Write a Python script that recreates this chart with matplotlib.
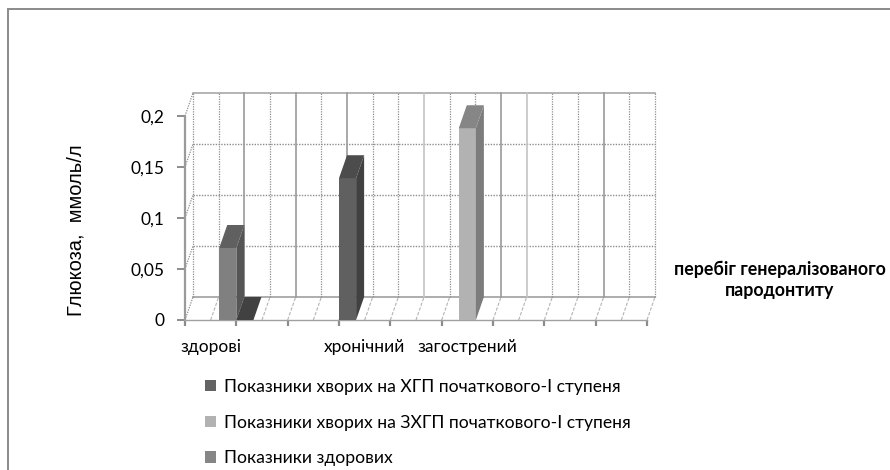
import matplotlib
matplotlib.use('Agg')
import matplotlib.pyplot as plt
from matplotlib.patches import Patch, Polygon, Rectangle

plt.rcParams['font.family'] = ['Lato', 'DejaVu Sans']

# Values, nan = nothing drawn
nan = float('nan')
categories = ['здорові', '', '', 'хронічний', '', 'загострений', '', '', '']
khgp = [nan, 0.0, nan, 0.139, nan, nan, nan, nan, nan]
zkhgp = [nan, nan, nan, nan, nan, 0.188, nan, nan, nan]
healthy = [0.0706, nan, nan, nan, nan, nan, nan, nan, nan]
y_ticks = [0, 0.05, 0.1, 0.15, 0.2]
y_labels = ['0', '0,05', '0,1', '0,15', '0,2']
series_names = ['Показники хворих на ХГП початкового-І ступеня',
                'Показники хворих на ЗХГП початкового-І ступеня',
                'Показники здорових']

# front, top, side colours for each series
styles = [('#606060', '#4c4c4c', '#414141'),
          ('#b2b2b2', '#868686', '#7c7c7c'),
          ('#808080', '#606060', '#555555')]
legend_colors = ['#636363', '#b2b2b2', '#868686']

W, H = 890, 470
fig = plt.figure(figsize=(W / 100, H / 100), dpi=100)
fig.patch.set_facecolor('white')
# only the top and left edges of the chart frame are inside the picture
fig.add_artist(Rectangle((7.5 / W, -0.1), 1, 1.1 - 9.5 / H, transform=fig.transFigure,
                         fill=False, edgecolor='#8a8a8a', linewidth=1.4))

ax = fig.add_axes([185 / W, 1 - 320 / H, 462 / W, 204 / H])
ax.set_xlim(0, 9)
ax.set_ylim(0, 0.2)
ax.patch.set_alpha(0)
for side in ['top', 'right']:
    ax.spines[side].set_visible(False)
ax.spines['left'].set_color('#9a9a9a')
ax.spines['left'].set_linewidth(1.6)
ax.spines['bottom'].set_color('#a0a0a0')
ax.spines['bottom'].set_linewidth(1.0)

# depth of the fake 3D box, in data units
dx = 8 / (462 / 9)
dy = 23 / (204 / 0.2)
grid = '#8e8e8e'
no_clip = dict(clip_on=False)

# back wall
for y in y_ticks[1:-1]:
    ax.plot([dx, 9 + dx], [y + dy, y + dy], color=grid, lw=1, ls=(0, (1, 1)), **no_clip)
    ax.plot([0, dx], [y, y + dy], color=grid, lw=0.9, ls=(0, (1, 1)), **no_clip)
ax.plot([dx, 9 + dx], [0.2 + dy, 0.2 + dy], color='#a8a8a8', lw=1.2, **no_clip)
ax.plot([0, dx], [0.2, 0.2 + dy], color=grid, lw=0.9, ls=(0, (1, 1)), **no_clip)
ax.plot([dx, 9 + dx], [dy, dy], color='#a0a0a0', lw=1.2, **no_clip)
ax.plot([dx, dx], [dy, 0.2 + dy], color=grid, lw=0.9, ls=(0, (1, 1)), **no_clip)

# half category grid lines, some solid and some dotted in the original
solid_dark = [2, 4, 6, 12, 16]
solid_light = [9, 13]
for k in range(1, 19):
    x = k / 2 + dx
    if k in solid_dark:
        ax.plot([x, x], [dy, 0.2 + dy], color='#9a9a9a', lw=1.2, **no_clip)
    elif k in solid_light:
        ax.plot([x, x], [dy, 0.2 + dy], color='#c4c4c4', lw=1.2, **no_clip)
    else:
        ax.plot([x, x], [dy, 0.2 + dy], color=grid, lw=0.9, ls=(0, (1, 1)), **no_clip)
    # floor
    ax.plot([k / 2, x], [0, dy], color='#b4b4b4', lw=0.8, ls=(0, (3, 1.5)), **no_clip)
ax.plot([0, dx], [0, dy], color=grid, lw=0.9, ls=(0, (1, 1)), **no_clip)


# Function to draw one bar as three faces
def draw_bar(left, width, value, colors):
    front, top, side = colors
    right = left + width
    if value > 0:
        ax.add_patch(Polygon([(left, 0), (right, 0), (right, value), (left, value)],
                             facecolor=front, edgecolor='none', zorder=5, **no_clip))
        ax.add_patch(Polygon([(right, 0), (right + dx, dy), (right + dx, value + dy), (right, value)],
                             facecolor=side, edgecolor='none', zorder=5, **no_clip))
        color = top
    else:
        color = side
    ax.add_patch(Polygon([(left, value), (right, value), (right + dx, value + dy), (left + dx, value + dy)],
                         facecolor=color, edgecolor='none', zorder=5, **no_clip))


for s, values in enumerate([khgp, zkhgp, healthy]):
    for c, value in enumerate(values):
        if value == value:
            draw_bar(c + s / 3, 1 / 3, value, styles[s])

# axes ticks and labels
ax.set_yticks(y_ticks)
ax.set_yticklabels(y_labels, fontsize=12.5)
ax.set_xticks(range(10))
ax.set_xticklabels([])
ax.set_xticks([c + 0.5 for c in range(9)], minor=True)
ax.set_xticklabels(categories, minor=True, fontsize=12.5)
ax.tick_params(axis='x', which='major', length=4, width=1.6, color='#8c8c8c')
ax.tick_params(axis='x', which='minor', length=0, pad=14)
ax.tick_params(axis='y', length=6, width=1.4, color='#8c8c8c', pad=9)

fig.text(76 / W, 1 - 230 / H, 'Глюкоза,  ммоль/л', rotation=90, ha='center', va='center',
         fontsize=14.5, family=['Liberation Sans', 'DejaVu Sans'])
fig.text(780 / W, 1 - 280 / H, 'перебіг генералізованого\nпародонтиту', ha='center', va='center',
         fontsize=12.8, fontweight='bold', linespacing=1.3)

handles = [Patch(facecolor=c, edgecolor='none') for c in legend_colors]
fig.legend(handles, series_names, loc='upper left', bbox_to_anchor=(205 / W, 1 - 379 / H),
           frameon=False, fontsize=12.6, handlelength=0.6, handleheight=0.6, handletextpad=0.5,
           labelspacing=1.12, borderpad=0, borderaxespad=0)

fig.savefig('out.png', dpi=100)
